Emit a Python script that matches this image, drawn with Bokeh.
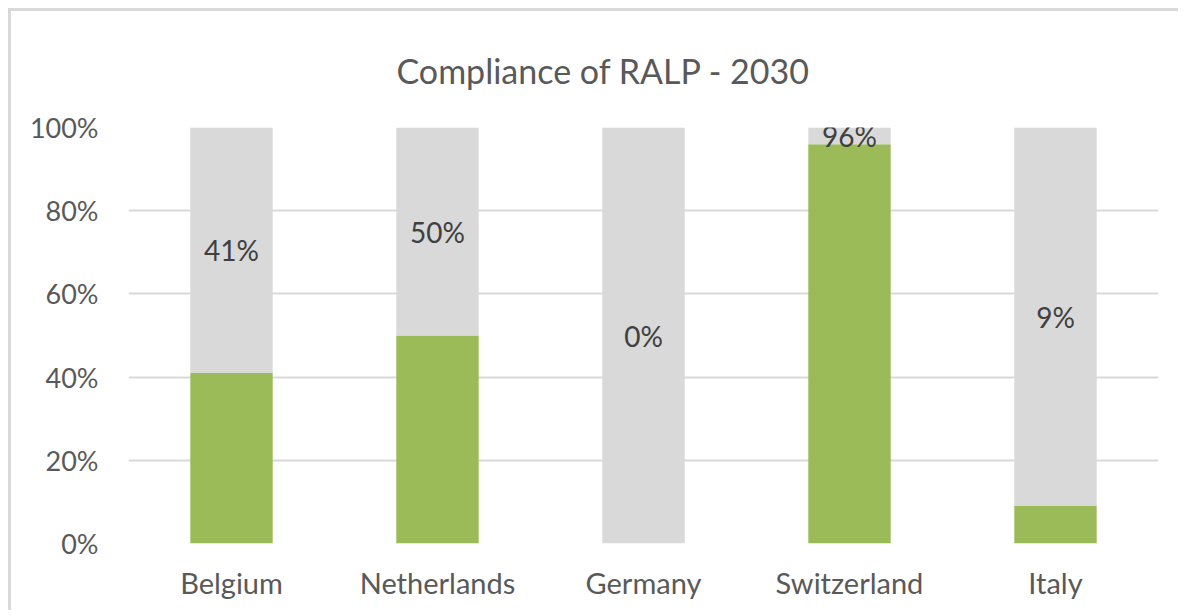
from bokeh.plotting import figure
from bokeh.models import ColumnDataSource, FactorRange, Range1d, NumeralTickFormatter
from bokeh.core.properties import value
from bokeh.embed import file_html
from bokeh.resources import INLINE

countries = ["Belgium", "Netherlands", "Germany", "Switzerland", "Italy"]
compliant = [0.41, 0.50, 0.0, 0.96, 0.09]
labels = ["41%", "50%", "0%", "96%", "9%"]
title_text = "Compliance of RALP - 2030"

remaining = [1 - c for c in compliant]
label_y = [c + (1 - c) / 2 for c in compliant]

src = ColumnDataSource(dict(country=countries, compliant=compliant, remaining=remaining,
                            label=labels, label_y=label_y))

FONT = "Lato"
W, H = 1170, 602
p = figure(x_range=FactorRange(factors=countries), y_range=Range1d(0, 1),
           width=W, height=H, output_backend="svg", toolbar_location=None,
           title=title_text,
           min_border_left=117, min_border_right=23, min_border_top=116, min_border_bottom=70)
p.styles = {"margin-left": "8px", "margin-top": "8px",
            "border-left": "3px solid #d9d9d9", "border-top": "3px solid #d9d9d9"}

p.vbar_stack(["compliant", "remaining"], x="country", width=0.4, source=src,
             color=["#9BBB59", "#D9D9D9"], line_color=None)

p.text(x="country", y="label_y", text="label", source=src,
       text_align="center", text_baseline="middle", text_color="#404040",
       text_font=value(FONT), text_font_size="28px")

p.title.text_font = FONT
p.title.text_font_size = "34px"
p.title.text_font_style = "normal"
p.title.text_color = "#595959"
p.title.align = "left"
p.title.offset = 268
p.title.vertical_align = "top"
p.title.standoff = 70

p.outline_line_color = None
p.xgrid.grid_line_color = None
p.ygrid.grid_line_color = "#d9d9d9"
p.ygrid.grid_line_width = 2

p.yaxis.ticker = [0, 0.2, 0.4, 0.6, 0.8, 1.0]
p.yaxis.formatter = NumeralTickFormatter(format="0%")
for ax in (p.xaxis, p.yaxis):
    ax.axis_line_color = None
    ax.major_tick_line_color = None
    ax.minor_tick_line_color = None
    ax.major_label_text_font = FONT
    ax.major_label_text_color = "#595959"
p.yaxis.major_label_text_font_size = "27px"
p.xaxis.major_label_text_font_size = "29px"
p.yaxis.major_label_standoff = 24
p.xaxis.major_label_standoff = 15

open("out.html", "w").write(file_html(p, INLINE))
